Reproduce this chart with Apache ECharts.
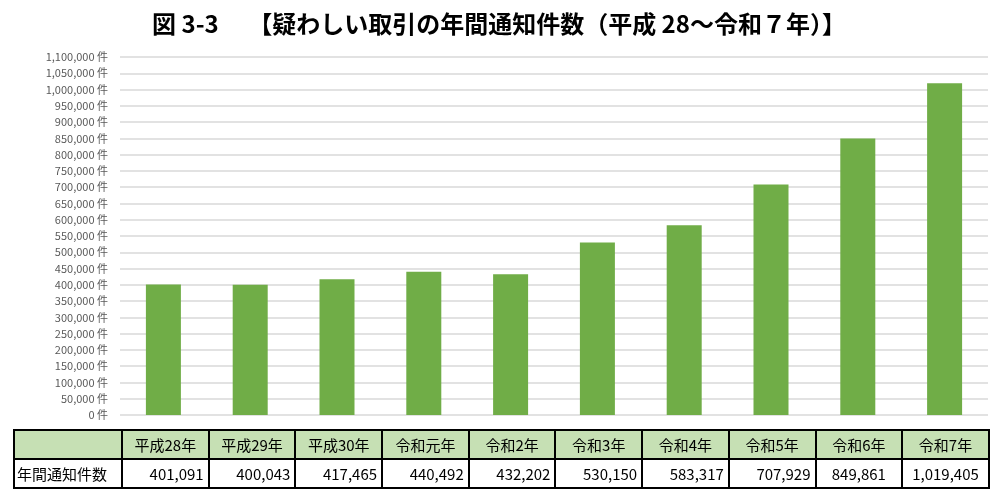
<!DOCTYPE html>
<html>
<head>
<meta charset="utf-8">
<script src="https://cdn.jsdelivr.net/npm/echarts@6/dist/echarts.min.js"></script>
<style>
    html, body { margin: 0; padding: 0; background: #fff; }
    #wrap { position: relative; width: 1000px; height: 503px; }
    #chart { position: absolute; left: 0; top: 0; width: 1000px; height: 503px; }
    #tbl {
        position: absolute; left: 13px; top: 429px;
        border-collapse: collapse; table-layout: fixed;
        font-family: "Noto Sans CJK JP", sans-serif; font-size: 15px; color: #000;
    }
    #tbl td { border: 2px solid #000; padding: 0 4px; height: 27px; white-space: nowrap; }
    #tbl tr.head td { background: #C6E0B4; text-align: center; }
    #tbl tr.vals td { text-align: right; font-size: 15px; }
    #tbl tr.vals td.label { text-align: left; font-size: 15px; padding-left: 2px; }
    #tbl tr.vals td.mid { text-align: center; }
</style>
</head>
<body>
<div id="wrap">
    <div id="chart"></div>
    <table id="tbl"></table>
</div>
<script>
var titleText = '図 3-3　 【疑わしい取引の年間通知件数（平成 28～令和７年）】';
var rowLabel = '年間通知件数';
var years = ['平成28年', '平成29年', '平成30年', '令和元年', '令和2年', '令和3年', '令和4年', '令和5年', '令和6年', '令和7年'];
var counts = [401091, 400043, 417465, 440492, 432202, 530150, 583317, 707929, 849861, 1019405];

function fmt(n) {
    return n.toLocaleString('en-US');
}

function renderChart(dom) {
    var myChart = echarts.init(dom);
    var option = {
        backgroundColor: 'transparent',
        animation: false,
        title: {
            text: titleText,
            left: 494,
            textAlign: 'center',
            top: 7,
            textStyle: {
                fontFamily: 'Noto Sans CJK JP',
                fontSize: 24,
                fontWeight: 'bold',
                color: '#000'
            }
        },
        grid: { left: 120, right: 12, top: 57, bottom: 88 },
        xAxis: {
            type: 'category',
            data: years,
            axisLine: { show: false },
            axisTick: { show: false },
            axisLabel: { show: false }
        },
        yAxis: {
            type: 'value',
            min: 0,
            max: 1100000,
            interval: 50000,
            axisLine: { show: false },
            axisTick: { show: false },
            axisLabel: {
                margin: 12,
                color: '#595959',
                fontSize: 11,
                fontFamily: 'Noto Sans CJK JP',
                formatter: function (v) { return fmt(v) + ' 件'; }
            },
            splitLine: { lineStyle: { color: '#d9d9d9', width: 1.5 } }
        },
        series: [
            {
                type: 'bar',
                data: counts,
                barWidth: 35,
                itemStyle: { color: '#70AD47' }
            }
        ]
    };
    myChart.setOption(option);
}

function renderTable(tbl) {
    var colgroup = '<colgroup><col style="width:108px">' +
        years.map(function () { return '<col style="width:86.7px">'; }).join('') + '</colgroup>';
    var head = '<tr class="head"><td></td>' + years.map(function (y) {
        return '<td>' + y + '</td>';
    }).join('') + '</tr>';
    var vals = '<tr class="vals"><td class="label">' + rowLabel + '</td>' + counts.map(function (c, i) {
        return '<td' + (i >= 8 ? ' class="mid"' : '') + '>' + fmt(c) + '</td>';
    }).join('') + '</tr>';
    tbl.innerHTML = colgroup + head + vals;
}

renderChart(document.getElementById('chart'));
renderTable(document.getElementById('tbl'));
</script>
</body>
</html>
